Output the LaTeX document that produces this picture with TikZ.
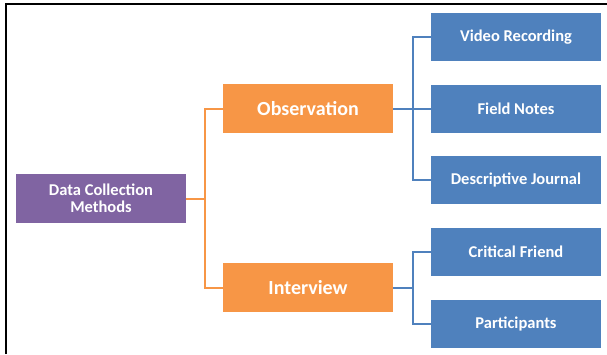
\documentclass[tikz,border=0pt]{standalone}
\usepackage{fontspec}
\setmainfont{Carlito}
\definecolor{methodpurple}{RGB}{128,100,162}
\definecolor{typeorange}{RGB}{247,150,70}
\definecolor{toolblue}{RGB}{79,129,189}
\tikzset{
  rootbox/.style={fill=methodpurple, text=white, font=\bfseries\fontsize{16.5}{17}\selectfont,
    minimum width=170pt, minimum height=49pt, align=center, inner sep=0pt},
  typebox/.style={fill=typeorange, text=white, font=\bfseries\fontsize{20}{22}\selectfont,
    minimum width=170pt, minimum height=49pt, inner sep=0pt},
  toolbox/.style={fill=toolblue, text=white, font=\bfseries\fontsize{16.5}{18}\selectfont,
    minimum width=170pt, minimum height=48pt, inner sep=0pt},
  orangeline/.style={draw=typeorange, line width=2pt},
  blueline/.style={draw=toolblue, line width=2pt}
}
\begin{document}
\begin{tikzpicture}[x=1pt,y=-1pt]
  \useasboundingbox (0,0) rectangle (607,354);

  % Frame
  \draw [line width=2.5pt] (6,354) -- (6,4) -- (607,4);

  % Root node
  \node [rootbox] (dcm) at (101,198.5) {Data Collection\\Methods};

  % Method types
  \node [typebox] (obs) at (308,108.5) {Observation};
  \node [typebox] (int) at (308,287.5) {Interview};

  % Observation tools
  \node [toolbox] (vr) at (516,37) {Video Recording};
  \node [toolbox] (fn) at (516,108.5) {Field Notes};
  \node [toolbox] (dj) at (516,180) {Descriptive Journal};

  % Interview tools
  \node [toolbox] (cf) at (516,251.5) {Critical Friend};
  \node [toolbox] (pa) at (516,323.5) {Participants};

  % Junctions
  \coordinate (jroot) at (205,198.5);
  \coordinate (jobs) at (412.5,108.5);
  \coordinate (jint) at (412.5,287.5);

  % Orange branch
  \draw [orangeline] (dcm.east) -- (jroot);
  \draw [orangeline] (obs.west) -| (jroot) |- (int.west);

  % Blue branches
  \draw [blueline] (obs.east) -- (fn.west);
  \draw [blueline] (vr.west) -| (jobs) |- (dj.west);
  \draw [blueline] (int.east) -- (jint);
  \draw [blueline] (cf.west) -| (jint) |- (pa.west);
\end{tikzpicture}
\end{document}
